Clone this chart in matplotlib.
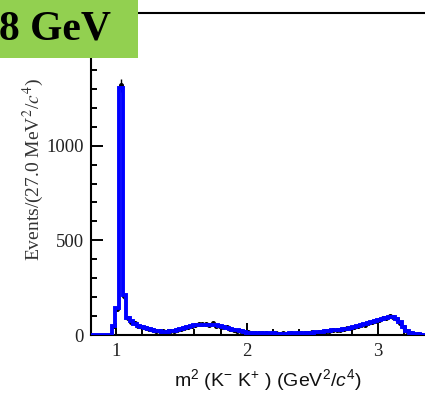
import numpy as np
import matplotlib
matplotlib.use('Agg')
import matplotlib.pyplot as plt
from matplotlib.ticker import MultipleLocator
from matplotlib.patches import Rectangle

plt.rcParams['mathtext.fontset'] = 'custom'
plt.rcParams['mathtext.rm'] = 'Liberation Sans'
plt.rcParams['mathtext.it'] = 'Liberation Sans:italic'

# histogram binning: 27 MeV^2 bins
bin_width = 0.027
x_low = 0.808
n_bins = 98

# fitted / MC histogram (blue)
hist_counts = [
    0, 0, 0, 0, 0, 0,
    50, 140, 1305, 210, 90, 72, 60, 50, 42, 36,
    30, 26, 22, 20, 18, 18, 20, 23, 27, 32,
    37, 42, 47, 51, 54, 55, 55, 54, 52, 52,
    48, 43, 39, 32, 28, 24, 20, 16, 13, 11,
    10, 9, 9, 8, 8, 8, 7, 7, 7, 7,
    8, 8, 9, 9, 10, 11, 13, 14, 16, 18,
    20, 22, 24, 26, 28, 31, 34, 38, 42, 46,
    51, 56, 62, 68, 74, 80, 86, 92, 97, 95,
    85, 68, 42, 22, 10, 5, 3, 1, 0, 0,
    0, 0,
]

# data points (black)
data_counts = [
    0, 0, 0, 0, 0, 0,
    48, 138, 1318, 206, 92, 70, 62, 48, 44, 35,
    31, 25, 23, 19, 19, 17, 21, 22, 28, 31,
    38, 41, 48, 52, 60, 56, 57, 53, 66, 50,
    49, 42, 40, 31, 29, 23, 21, 15, 14, 10,
    11, 9, 8, 9, 7, 8, 8, 6, 8, 7,
    9, 7, 10, 9, 11, 10, 14, 13, 17, 17,
    21, 21, 25, 25, 29, 30, 36, 37, 43, 45,
    53, 55, 64, 67, 76, 79, 88, 91, 99, 93,
    86, 66, 43, 21, 11, 4, 3, 1, 0, 0,
    0, 0,
]

y_ticks = [0, 500, 1000]

edges = x_low + bin_width * np.arange(n_bins + 1)
centers = 0.5 * (edges[:-1] + edges[1:])
data = np.array(data_counts, dtype=float)
mask = data > 0

W, H = 425, 393
fig = plt.figure(figsize=(W / 100, H / 100), dpi=100)
ax = fig.add_axes([90.7 / W, 58 / H, (edges[-1] - edges[0]) * 131 / W, (335 - 12.7) / H])

ax.errorbar(centers[mask], data[mask], yerr=np.sqrt(data[mask]), fmt='o', ms=2.6,
            color='black', elinewidth=1.0, capsize=0, zorder=2)
ax.stairs(hist_counts, edges, color='#0000ff', linewidth=2.8, zorder=3)

ax.set_xlim(edges[0], edges[-1])
ax.set_ylim(0, 1702)

ax.xaxis.set_major_locator(MultipleLocator(1))
ax.xaxis.set_minor_locator(MultipleLocator(0.2))
ax.set_yticks(y_ticks)
ax.yaxis.set_minor_locator(MultipleLocator(100))
ax.tick_params(which='both', direction='in', top=False, right=False, width=1.4, color='black')
ax.tick_params(which='major', length=8.6)
ax.tick_params(which='minor', length=4.6)
ax.tick_params(axis='x', pad=6)
ax.tick_params(axis='y', pad=5)
for lab in ax.get_xticklabels() + ax.get_yticklabels():
    lab.set_fontfamily('Liberation Serif')
    lab.set_fontsize(13.5)
    lab.set_color('#222222')
for sp in ax.spines.values():
    sp.set_linewidth(1.5)

# axis titles
fig.text(268 / W, 1 - 380 / H, r'm$^2$ (K$^{-}$ K$^{+}$ ) (GeV$^2$/$c^4$)',
         ha='center', va='center', fontsize=14, family='Liberation Sans', color='#111111',
         math_fontfamily='custom')
fig.text(33 / W, 1 - 170 / H, r'Events/(27.0 MeV$^2$/$c^4$)', rotation=90,
         ha='center', va='center', fontsize=14, family='Liberation Serif', color='#333333',
         math_fontfamily='stix')

# green energy label box
fig.patches.append(Rectangle((0, 1 - 58 / H), 138 / W, 58 / H, transform=fig.transFigure,
                             facecolor='#92d050', edgecolor='none', zorder=10))
fig.text(-1 / W, 1 - 40 / H, '8 GeV', ha='left', va='baseline', fontsize=30,
         fontweight='bold', family='Liberation Serif', color='black', zorder=11)

fig.savefig('out.png', dpi=100)
